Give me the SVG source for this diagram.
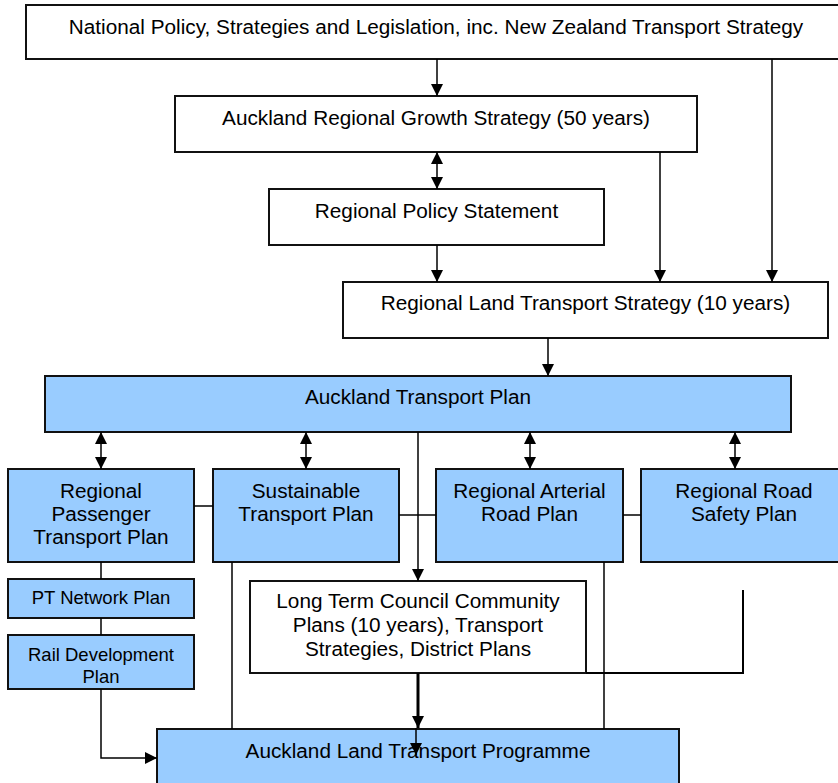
<svg xmlns="http://www.w3.org/2000/svg" width="838" height="783" viewBox="0 0 838 783">
<defs>
<marker id="ah" viewBox="0 0 12 12" refX="12" refY="6" markerWidth="12" markerHeight="12" markerUnits="userSpaceOnUse" orient="auto-start-reverse">
<path d="M0,0 L12,6 L0,12 z" fill="#000"/>
</marker>
<style>
.box{stroke:#111;stroke-width:2;fill:#fff}
.blue{fill:#99ccff}
.t{font-family:"Liberation Sans",Arial,sans-serif;font-size:20.75px;fill:#000;text-anchor:middle}
.s{font-size:18.5px}
.c{fill:none;stroke:#000;stroke-width:1.5}
.a{marker-end:url(#ah)}
.d{marker-start:url(#ah);marker-end:url(#ah)}
</style>
</defs>
<rect width="838" height="783" fill="#fff"/>
<g id="nodes">
<g id="n-national"><rect class="box" x="26" y="5" width="822" height="54"/><text class="t" x="436" y="34">National Policy, Strategies and Legislation, inc. New Zealand Transport Strategy</text></g>
<g id="n-args"><rect class="box" x="175" y="96" width="522" height="56"/><text class="t" x="436" y="125">Auckland Regional Growth Strategy (50 years)</text></g>
<g id="n-rps"><rect class="box" x="269" y="189" width="335" height="56"/><text class="t" x="436.5" y="218">Regional Policy Statement</text></g>
<g id="n-rlts"><rect class="box" x="343" y="282" width="485" height="56"/><text class="t" x="585.5" y="310">Regional Land Transport Strategy (10 years)</text></g>
<g id="n-atp"><rect class="box blue" x="45" y="376" width="746" height="56"/><text class="t" x="418" y="404">Auckland Transport Plan</text></g>
<g id="n-rptp"><rect class="box blue" x="8" y="469" width="186" height="93"/><text class="t" x="101" y="498">Regional</text><text class="t" x="101" y="521">Passenger</text><text class="t" x="101" y="544">Transport Plan</text></g>
<g id="n-stp"><rect class="box blue" x="213" y="469" width="186" height="93"/><text class="t" x="306" y="498">Sustainable</text><text class="t" x="306" y="521">Transport Plan</text></g>
<g id="n-rarp"><rect class="box blue" x="436" y="469" width="187" height="93"/><text class="t" x="529.5" y="498">Regional Arterial</text><text class="t" x="529.5" y="521">Road Plan</text></g>
<g id="n-rrsp"><rect class="box blue" x="641" y="469" width="210" height="93"/><text class="t" x="744" y="498">Regional Road</text><text class="t" x="744" y="521">Safety Plan</text></g>
<g id="n-ltccp"><rect class="box" x="250" y="581" width="336" height="92"/><text class="t" x="418" y="608">Long Term Council Community</text><text class="t" x="418" y="632">Plans (10 years), Transport</text><text class="t" x="418" y="656">Strategies, District Plans</text></g>
<g id="n-ptnp"><rect class="box blue" x="8" y="579" width="186" height="39"/><text class="t s" x="101" y="604">PT Network Plan</text></g>
<g id="n-rdp"><rect class="box blue" x="8" y="635" width="186" height="54"/><text class="t s" x="101" y="661">Rail Development</text><text class="t s" x="101" y="683">Plan</text></g>
<g id="n-altp"><rect class="box blue" x="157" y="729" width="522" height="70"/><text class="t" x="418" y="758">Auckland Land Transport Programme</text></g>
</g>
<g id="connectors">
<path class="c a" d="M437,59 V96"/>
<path class="c a" d="M772,59 V282"/>
<path class="c a" d="M660,152 V282"/>
<path class="c d" d="M437,152 V189"/>
<path class="c a" d="M437,245 V282"/>
<path class="c a" d="M548,338 V376"/>
<path class="c d" d="M101,432 V469"/>
<path class="c d" d="M306,432 V469"/>
<path class="c d" d="M530,432 V469"/>
<path class="c d" d="M735,432 V469"/>
<path class="c a" d="M418,432 V581"/>
<path class="c" d="M194,506 H213"/>
<path class="c" d="M399,515 H436"/>
<path class="c" d="M623,515 H641"/>
<path class="c" d="M101,562 V579"/>
<path class="c" d="M101,618 V635"/>
<path class="c a" d="M101,689 V758 H157"/>
<path class="c" d="M232,562 V729"/>
<path class="c" d="M604,562 V729"/>
<path class="c" style="stroke-width:2" d="M743,590 V673 H586"/>
<path class="c a" style="stroke-width:3" d="M418,673 V728"/>
<path class="c a" d="M416,728 V755"/>
</g>
</svg>
